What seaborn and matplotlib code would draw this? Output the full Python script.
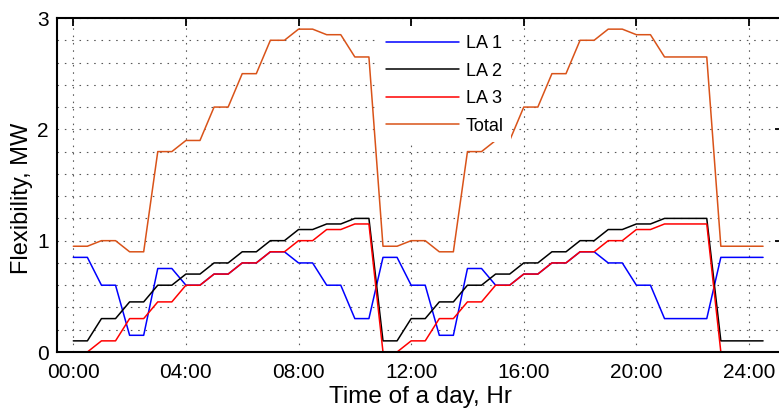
import numpy as np
import pandas as pd
import matplotlib
matplotlib.use("Agg")
import matplotlib.pyplot as plt
import seaborn as sns

# half-hour samples, 00:00 .. 24:30
hours = np.arange(0, 25, 0.5)

la1 = [0.85, 0.85, 0.6, 0.6, 0.15, 0.15, 0.75, 0.75, 0.6, 0.6, 0.7, 0.7,
       0.8, 0.8, 0.9, 0.9, 0.8, 0.8, 0.6, 0.6, 0.3, 0.3,
       0.85, 0.85, 0.6, 0.6, 0.15, 0.15, 0.75, 0.75, 0.6, 0.6, 0.7, 0.7,
       0.8, 0.8, 0.9, 0.9, 0.8, 0.8, 0.6, 0.6, 0.3, 0.3, 0.3, 0.3,
       0.85, 0.85, 0.85, 0.85]
la2 = [0.1, 0.1, 0.3, 0.3, 0.45, 0.45, 0.6, 0.6, 0.7, 0.7, 0.8, 0.8,
       0.9, 0.9, 1.0, 1.0, 1.1, 1.1, 1.15, 1.15, 1.2, 1.2,
       0.1, 0.1, 0.3, 0.3, 0.45, 0.45, 0.6, 0.6, 0.7, 0.7, 0.8, 0.8,
       0.9, 0.9, 1.0, 1.0, 1.1, 1.1, 1.15, 1.15, 1.2, 1.2, 1.2, 1.2,
       0.1, 0.1, 0.1, 0.1]
la3 = [0.0, 0.0, 0.1, 0.1, 0.3, 0.3, 0.45, 0.45, 0.6, 0.6, 0.7, 0.7,
       0.8, 0.8, 0.9, 0.9, 1.0, 1.0, 1.1, 1.1, 1.15, 1.15,
       0.0, 0.0, 0.1, 0.1, 0.3, 0.3, 0.45, 0.45, 0.6, 0.6, 0.7, 0.7,
       0.8, 0.8, 0.9, 0.9, 1.0, 1.0, 1.1, 1.1, 1.15, 1.15, 1.15, 1.15,
       0.0, 0.0, 0.0, 0.0]
total = [0.95, 0.95, 1.0, 1.0, 0.9, 0.9, 1.8, 1.8, 1.9, 1.9, 2.2, 2.2,
         2.5, 2.5, 2.8, 2.8, 2.9, 2.9, 2.85, 2.85, 2.65, 2.65,
         0.95, 0.95, 1.0, 1.0, 0.9, 0.9, 1.8, 1.8, 1.9, 1.9, 2.2, 2.2,
         2.5, 2.5, 2.8, 2.8, 2.9, 2.9, 2.85, 2.85, 2.65, 2.65, 2.65, 2.65,
         0.95, 0.95, 0.95, 0.95]

series_names = ["LA 1", "LA 2", "LA 3", "Total"]
colors = {"LA 1": "#0000FF", "LA 2": "#000000", "LA 3": "#FF0000", "Total": "#D95319"}

tick_hours = [0, 4, 8, 12, 16, 20, 24]
tick_labels = ["00:00", "04:00", "08:00", "12:00", "16:00", "20:00", "24:00"]

frames = []
for name, vals in zip(series_names, [la1, la2, la3, total]):
    frames.append(pd.DataFrame({"hour": hours, "MW": vals, "series": name}))
df = pd.concat(frames, ignore_index=True)

sns.set_style("white")
plt.rcParams["font.family"] = ["Liberation Sans", "DejaVu Sans"]
plt.rcParams["text.color"] = "black"
plt.rcParams["axes.labelcolor"] = "black"

fig = plt.figure(figsize=(7.79, 4.20), dpi=100)
ax = fig.add_axes([57 / 779, 68 / 420, 726 / 779, 334 / 420])

sns.lineplot(data=df, x="hour", y="MW", hue="series", hue_order=series_names,
             palette=colors, estimator=None, linewidth=1.1, ax=ax)

ax.set_xlim(-0.579, 25.208)
ax.set_ylim(0, 3)
ax.set_xticks(tick_hours)
ax.set_xticklabels(tick_labels)
ax.set_yticks([0, 1, 2, 3])
ax.set_yticks(np.arange(0, 3.01, 0.2), minor=True)

grid_style = dict(color="0.35", linewidth=0.8, linestyle=(0, (1.4, 5.2)))
ax.yaxis.grid(True, which="both", **grid_style)
ax.xaxis.grid(True, which="major", **grid_style)
ax.set_axisbelow(True)

ax.tick_params(which="major", direction="in", length=5.8, width=1.3,
               top=True, right=True, labelsize=15, colors="black")
ax.tick_params(axis="x", pad=8)
ax.tick_params(axis="y", pad=6)
ax.tick_params(which="minor", length=0)
for s in ax.spines.values():
    s.set_linewidth(1.5)
    s.set_color("black")

ax.set_xlabel("Time of a day, Hr", fontsize=17.5, labelpad=3, color="black")
ax.set_ylabel("Flexibility, MW", fontsize=17, color="black")
ax.yaxis.set_label_coords(-0.033, 0.461)

handles, labels = ax.get_legend_handles_labels()
leg = ax.legend(handles, labels, loc="center", bbox_to_anchor=(0.534, 0.8),
                frameon=True, facecolor="white", edgecolor="none", framealpha=1,
                fancybox=False, fontsize=13, handlelength=4.05, handletextpad=0.4,
                labelspacing=0.58, borderpad=0.4)
for t in leg.get_texts():
    t.set_color("black")

fig.savefig("out.png", dpi=100)
